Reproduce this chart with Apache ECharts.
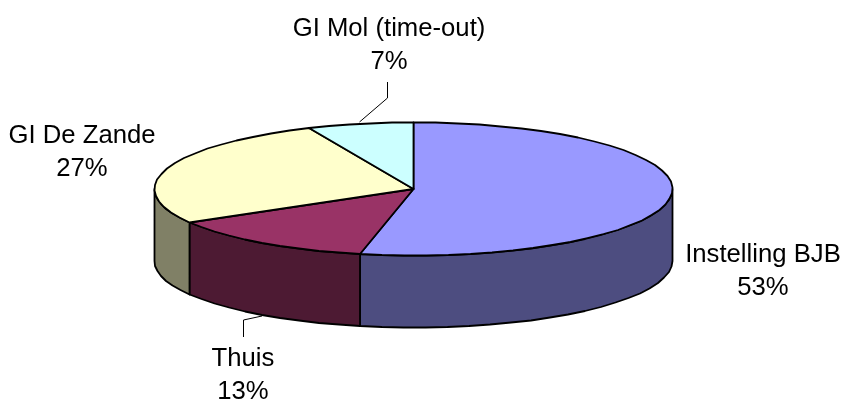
<!DOCTYPE html>
<html>
<head>
<meta charset="utf-8">
<style>html,body{margin:0;padding:0;background:#fff}#c{width:843px;height:400px}</style>
<script src="https://cdn.jsdelivr.net/npm/echarts@6/dist/echarts.min.js"></script>
</head>
<body>
<div id="c"></div>
<script>
const categories = ['Instelling BJB', 'Thuis', 'GI De Zande', 'GI Mol (time-out)'];
const values = [53.3, 13.3, 26.8, 6.6];
const topColors = ['#9999FF', '#993366', '#FFFFCC', '#CCFFFF'];
const wallColors = ['#4D4D80', '#4D1A33', '#808066', '#668080'];

const CX = 413.5, CY = 189, RX = 259, RY = 66.5, DEPTH = 72, STEP = 5;
const labelPos = [[763, 271], [243, 375], [82, 152], [389, 45]];
const leaders = [null, [[262, 316], [243.5, 320], [243.5, 337]], null, [[359.5, 122], [387.5, 98], [387.5, 82]]];

const total = values.reduce((a, b) => a + b, 0);
const pt = (t, dy) => [
  Math.round((CX + RX * Math.sin(t)) * 2) / 2,
  Math.round((CY - RY * Math.cos(t) + dy) * 2) / 2
];
function arc(a, b, dy) {
  const out = [], s = STEP * Math.PI / 180;
  const n = Math.max(1, Math.ceil((b - a) / s));
  for (let i = 0; i <= n; i++) out.push(pt(a + (b - a) * i / n, dy));
  return out;
}
function angles(i) {
  let before = 0;
  for (let k = 0; k < i; k++) before += values[k];
  return [before / total * 2 * Math.PI, (before + values[i]) / total * 2 * Math.PI];
}
const lineStyle = { fill: null, stroke: '#000', lineWidth: 1 };

function renderSlice(params, api) {
  const i = params.dataIndex;
  const [a, b] = angles(i);
  const kids = [];
  const lo = Math.max(a, Math.PI / 2), hi = Math.min(b, 3 * Math.PI / 2);
  if (hi > lo) {
    const upper = arc(lo, hi, 0), lower = arc(lo, hi, DEPTH).reverse();
    kids.push({
      type: 'polygon', z2: 1,
      shape: { points: upper.concat(lower) },
      style: { fill: wallColors[i], stroke: '#000', lineWidth: 1.8, lineJoin: 'round' }
    });
  }
  kids.push({
    type: 'polygon', z2: 2,
    shape: { points: [[CX, CY]].concat(arc(a, b, 0)) },
    style: { fill: topColors[i], stroke: '#000', lineWidth: 1.8, lineJoin: 'round' }
  });
  if (leaders[i]) {
    kids.push({ type: 'polyline', z2: 3, shape: { points: leaders[i] }, style: lineStyle });
  }
  kids.push({
    type: 'text', z2: 4, x: labelPos[i][0], y: labelPos[i][1],
    style: {
      text: categories[i] + '\n' + Math.round(values[i] / total * 100) + '%',
      fontFamily: '"Liberation Sans", Arial, sans-serif',
      fontSize: 25.7, lineHeight: 33, fill: '#000',
      align: 'center', verticalAlign: 'middle'
    }
  });
  return { type: 'group', children: kids };
}

const chart = echarts.init(document.getElementById('c'), null, { renderer: 'canvas' });
chart.setOption({
  animation: false,
  backgroundColor: '#fff',
  series: [{
    type: 'custom',
    coordinateSystem: 'none',
    silent: true,
    renderItem: renderSlice,
    data: values.map((v, i) => ({ name: categories[i], value: v }))
  }]
});
</script>
</body>
</html>
